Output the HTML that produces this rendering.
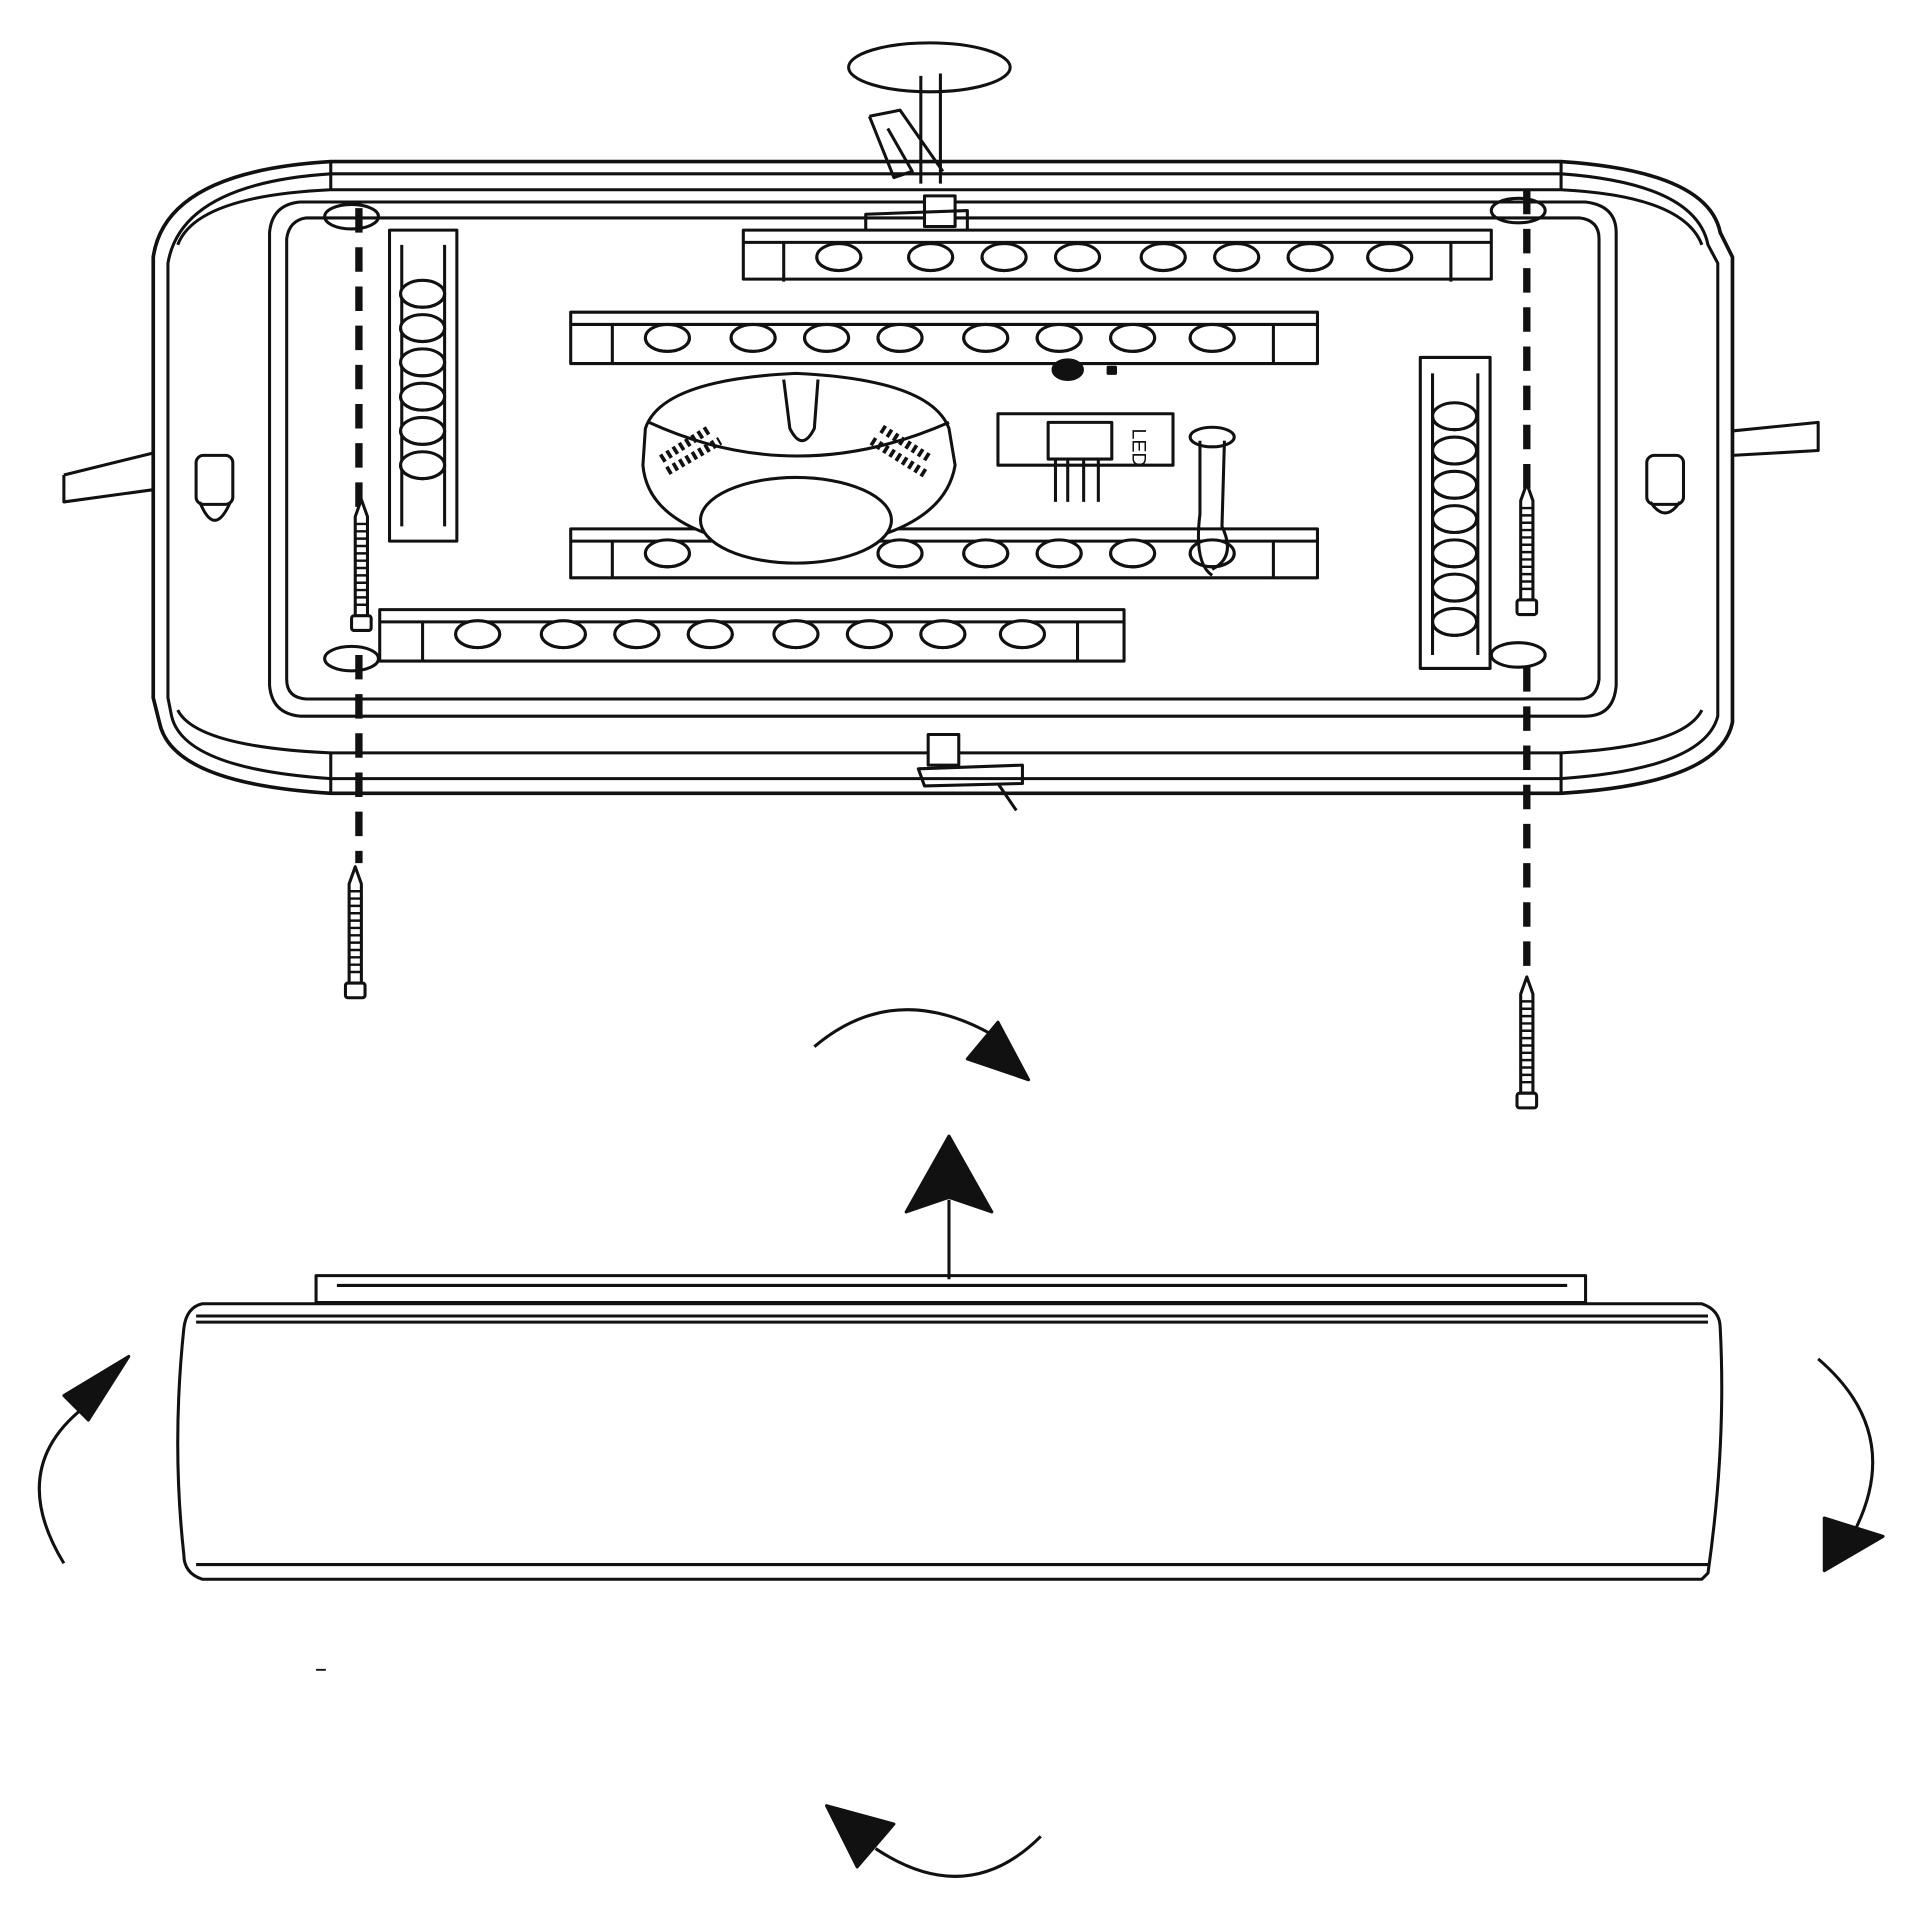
<!DOCTYPE html>
<html><head><meta charset="utf-8"><style>html,body{margin:0;padding:0;background:#fff}svg{display:block}</style></head>
<body>
<svg width="1920" height="1922" viewBox="0 0 1568 1570" xmlns="http://www.w3.org/2000/svg" fill="none" stroke="#111" stroke-width="2.5" stroke-linejoin="round">
<defs>
<g id="led"><ellipse cx="0" cy="0" rx="18" ry="11" fill="#fff"/><path d="M-18 0 A18 11 0 0 0 18 0"/></g>
<g id="screw"><path d="M0 0 L-5 14 L-5 95 L5 95 L5 14 Z" fill="#fff"/>
<path d="M-6 20 h12 M-6 26 h12 M-6 32 h12 M-6 38 h12 M-6 44 h12 M-6 50 h12 M-6 56 h12 M-6 62 h12 M-6 68 h12 M-6 74 h12 M-6 80 h12 M-6 86 h12" stroke-width="2"/>
<rect x="-8" y="95" width="16" height="12" rx="2" fill="#fff"/></g>
</defs>
<!-- ceiling anchor -->
<ellipse cx="759" cy="55" rx="66" ry="20"/>
<path d="M752 62 L752 150 M768 60 L768 150 M710 95 L735 90 L770 140 M710 95 L730 145 L745 140 L725 105"/>
<!-- outer plate -->
<path d="M270 132 L1275 132 Q1395 140 1405 190 L1415 210 L1415 590 Q1405 640 1275 648 L270 648 Q140 640 130 590 L125 570 L125 210 Q135 140 270 132 Z" stroke-width="3"/>
<path d="M270 142 L1275 142 Q1385 150 1395 200 L1403 215 L1403 585 Q1392 628 1275 636 L270 636 Q150 628 140 585 L137 570 L137 215 Q148 150 270 142 Z"/>
<path d="M270 132 V155 M1275 132 V155 M270 615 V648 M1275 615 V648"/>
<path d="M270 155 L1275 155 Q1375 160 1390 200 M270 615 L1275 615 Q1375 610 1390 580 M270 155 Q160 160 145 200 M270 615 Q160 610 145 580"/>
<!-- inner tray -->
<path d="M245 165 L1295 165 Q1320 168 1320 190 L1320 560 Q1318 585 1295 585 L245 585 Q222 583 220 560 L220 190 Q222 167 245 165 Z"/>
<path d="M250 178 L1290 178 Q1306 180 1306 195 L1306 555 Q1304 571 1290 571 L250 571 Q234 570 234 555 L234 195 Q236 180 250 178 Z"/>
<ellipse cx="287" cy="177" rx="22" ry="10"/><ellipse cx="1240" cy="172" rx="22" ry="10"/>
<ellipse cx="287" cy="538" rx="22" ry="10"/><ellipse cx="1240" cy="535" rx="22" ry="10"/>
<!-- side tabs & cords -->
<path d="M52 388 L125 370 M52 388 L52 410 L125 400" fill="#fff"/>
<path d="M1415 352 L1485 345 L1485 368 L1415 372"/>
<rect x="160" y="372" width="30" height="40" rx="6" fill="#fff"/><path d="M163 410 Q175 440 188 410"/>
<rect x="1345" y="372" width="30" height="40" rx="6" fill="#fff"/><path d="M1348 410 Q1360 428 1372 410"/>
<!-- top clip -->
<rect x="755" y="160" width="25" height="25" fill="#fff"/><path d="M707 175 L790 172 L790 190 L707 190 Z"/>
<!-- bottom clip -->
<rect x="758" y="600" width="25" height="25" fill="#fff"/><path d="M750 628 L835 625 L835 640 L755 642 Z M815 640 L830 662"/>
<!-- horizontal LED strips -->
<g>
<rect x="607" y="188" width="611" height="40" fill="#fff"/><path d="M607 198 H1218 M640 198 V230 M1185 198 V230"/>
<g transform="translate(685,210)"><use href="#led"/><use href="#led" x="75"/><use href="#led" x="135"/><use href="#led" x="195"/><use href="#led" x="265"/><use href="#led" x="325"/><use href="#led" x="385"/><use href="#led" x="450"/></g>
<rect x="466" y="255" width="610" height="42" fill="#fff"/><path d="M466 265 H1076 M500 265 V297 M1040 265 V297"/>
<g transform="translate(545,276)"><use href="#led"/><use href="#led" x="70"/><use href="#led" x="130"/><use href="#led" x="190"/><use href="#led" x="260"/><use href="#led" x="320"/><use href="#led" x="380"/><use href="#led" x="445"/></g>
<rect x="466" y="432" width="610" height="40" fill="#fff"/><path d="M466 442 H1076 M500 442 V472 M1040 442 V472"/>
<g transform="translate(545,452)"><use href="#led"/><use href="#led" x="190"/><use href="#led" x="260"/><use href="#led" x="320"/><use href="#led" x="380"/><use href="#led" x="445"/></g>
<rect x="310" y="498" width="608" height="42" fill="#fff"/><path d="M310 508 H918 M345 508 V540 M880 508 V540"/>
<g transform="translate(390,518)"><use href="#led"/><use href="#led" x="70"/><use href="#led" x="130"/><use href="#led" x="190"/><use href="#led" x="260"/><use href="#led" x="320"/><use href="#led" x="380"/><use href="#led" x="445"/></g>
</g>
<!-- vertical strips -->
<rect x="318" y="188" width="55" height="254" fill="#fff"/><path d="M328 200 V430 M363 200 V430"/>
<g transform="translate(345,240)"><use href="#led" transform="scale(1 1)"/><use href="#led" y="28"/><use href="#led" y="56"/><use href="#led" y="84"/><use href="#led" y="112"/><use href="#led" y="140"/></g>
<rect x="1160" y="292" width="57" height="254" fill="#fff"/><path d="M1170 305 V535 M1207 305 V535"/>
<g transform="translate(1188,340)"><use href="#led"/><use href="#led" y="28"/><use href="#led" y="56"/><use href="#led" y="84"/><use href="#led" y="112"/><use href="#led" y="140"/><use href="#led" y="168"/></g>
<!-- dome -->
<path d="M527 350 Q540 310 650 305 Q760 310 775 350 L780 380 Q770 440 650 450 Q530 440 525 380 Z" fill="#fff"/>
<path d="M530 345 Q650 400 775 345"/>
<ellipse cx="650" cy="425" rx="78" ry="35" fill="#fff"/>
<path d="M540 375 L580 350 M545 385 L588 360 M720 350 L760 375 M712 360 L757 388" stroke-width="7" stroke-dasharray="3 3"/>
<path d="M640 310 L645 350 Q655 370 665 350 L668 310"/>
<!-- driver -->
<rect x="815" y="338" width="143" height="42"/><rect x="856" y="345" width="52" height="30"/>
<path d="M862 375 V410 M872 375 V410 M885 375 V410 M897 375 V410"/>
<ellipse cx="872" cy="302" rx="12" ry="8" fill="#111"/><rect x="905" y="300" width="6" height="5" fill="#111"/>
<text x="925" y="370" font-family="Liberation Sans, sans-serif" font-size="16" fill="#111" stroke="none" transform="rotate(90 935 360)">LED</text>
<ellipse cx="990" cy="357" rx="18" ry="8"/><path d="M980 360 L980 420 Q975 460 990 470 M1000 360 L998 430 Q1010 455 990 465"/>
<!-- dashed lines -->
<path d="M293 170 V500 M293 535 V705 M1247 155 V400 M1247 545 V795" stroke-width="6" stroke-dasharray="20 12"/>
<!-- screws -->
<use href="#screw" transform="translate(295 408)"/>
<use href="#screw" transform="translate(1247 395)"/>
<use href="#screw" transform="translate(290 708)"/>
<use href="#screw" transform="translate(1247 798)"/>
<!-- rotation arrows -->
<path d="M665 855 Q730 800 810 845"/><path d="M790 865 L815 835 L840 882 Z" fill="#111"/>
<path d="M775 1045 V980"/><path d="M740 990 L775 928 L810 990 L775 978 Z" fill="#111"/>
<path d="M52 1277 Q5 1200 68 1150"/><path d="M52 1140 L105 1108 L72 1160 Z" fill="#111"/>
<path d="M1485 1110 Q1555 1170 1515 1250"/><path d="M1490 1240 L1538 1255 L1490 1283 Z" fill="#111"/>
<path d="M850 1500 Q790 1560 715 1510"/><path d="M675 1475 L730 1490 L700 1525 Z" fill="#111"/>
<!-- lower cover -->
<rect x="258" y="1042" width="1037" height="22"/>
<path d="M275 1050 H1280"/>
<path d="M165 1065 L1390 1065 Q1405 1070 1405 1085 Q1410 1180 1395 1285 L1390 1290 L165 1290 Q150 1285 150 1270 Q140 1180 150 1085 Q152 1068 165 1065 Z" fill="#fff"/>
<path d="M160 1080 H1395 M160 1075 H1395 M160 1278 H1395"/>
<path d="M258 1364 H266" stroke-width="1.5"/>
</svg>
</body></html>
